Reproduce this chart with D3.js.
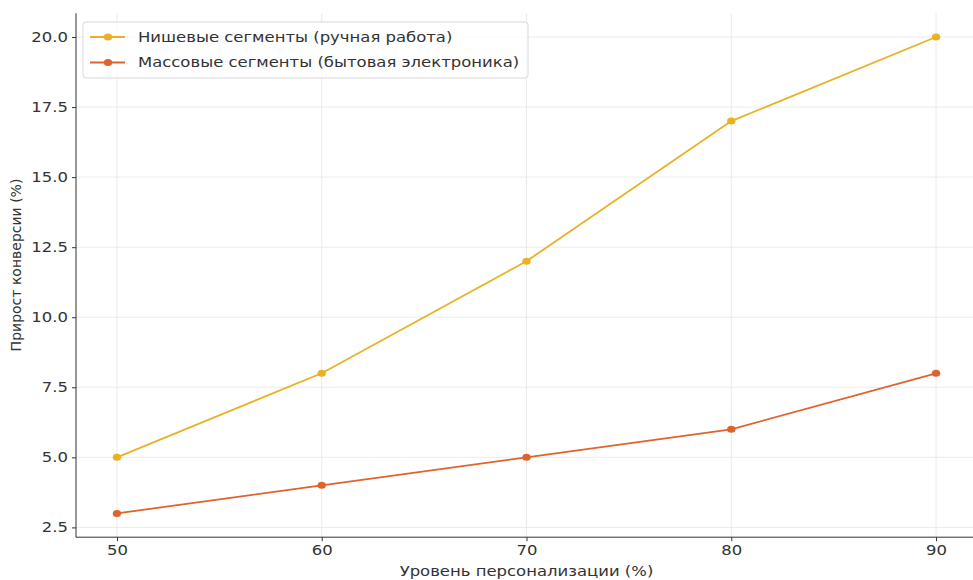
<!DOCTYPE html>
<html><head><meta charset="utf-8">
<script src="https://cdn.jsdelivr.net/npm/d3@7"></script>
<style>body{margin:0;background:#fff}svg{display:block;font-family:"DejaVu Sans",sans-serif}</style>
</head><body><svg id="c" width="973" height="580"></svg>
<script>
const levels = [50, 60, 70, 80, 90];
const nicheValues = [5, 8, 12, 17, 20];
const massValues = [3, 4, 5, 6, 8];
const seriesNames = ["Нишевые сегменты (ручная работа)", "Массовые сегменты (бытовая электроника)"];
const seriesColors = ["#e9b124", "#df632e"];
const xTicks = [50, 60, 70, 80, 90];
const yTicks = [2.5, 5.0, 7.5, 10.0, 12.5, 15.0, 17.5, 20.0];
const xLabel = "Уровень персонализации (%)";
const yLabel = "Прирост конверсии (%)";

const SX = 1.22, FS = "13.5px";
function stretch(sel) {
  sel.each(function () {
    const t = d3.select(this);
    const x = +(t.attr("x") || 0);
    t.attr("transform", (t.attr("transform") || "") + ` translate(${x},0) scale(${SX},1) translate(${-x},0)`);
  });
}

const svg = d3.select("#c");
const L = 76, R = 977, T = 13.2, B = 537.2;
const x = d3.scaleLinear().domain([48, 92]).range([L, R]);
const y = d3.scaleLinear().domain([2.15, 20.85]).range([B, T]);

// grid
const g = svg.append("g");
g.selectAll(".gx").data(xTicks).join("line")
  .attr("x1", d => x(d)).attr("x2", d => x(d)).attr("y1", T).attr("y2", B)
  .attr("stroke", "#e6e6e6").attr("stroke-width", 0.8);
g.selectAll(".gy").data(yTicks).join("line")
  .attr("x1", L).attr("x2", R).attr("y1", d => y(d)).attr("y2", d => y(d))
  .attr("stroke", "#e6e6e6").attr("stroke-width", 0.8);

// axes
const xAxis = d3.axisBottom(x).tickValues(xTicks).tickFormat(d3.format("d")).tickSize(4).tickPadding(4);
const yAxis = d3.axisLeft(y).tickValues(yTicks).tickFormat(d3.format(".1f")).tickSize(4).tickPadding(4);
const gx = svg.append("g").attr("transform", `translate(0,${B})`).call(xAxis);
const gy = svg.append("g").attr("transform", `translate(${L},0)`).call(yAxis);
[gx, gy].forEach(a => {
  a.select(".domain").attr("stroke", "#333").attr("stroke-width", 1);
  a.selectAll(".tick line").attr("stroke", "#333");
  a.selectAll(".tick text").attr("fill", "#333").style("font-size", FS).style("font-family", "DejaVu Sans");
  stretch(a.selectAll(".tick text"));
});
gx.select(".domain").attr("d", `M${L},0H${R}`);
gy.select(".domain").attr("d", `M0,${T}V${B}`);

stretch(svg.append("text").attr("x", (L + R) / 2).attr("y", 576).attr("text-anchor", "middle")
  .attr("fill", "#333").style("font-size", FS).text(xLabel));
svg.append("text").attr("transform", `translate(21,265) rotate(-90)`).attr("text-anchor", "middle")
  .attr("fill", "#333").style("font-size", "14px").text(yLabel);

// lines
const data = [nicheValues, massValues];
const line = d3.line().x((d, i) => x(levels[i])).y(d => y(d));
data.forEach((vals, k) => {
  svg.append("path").datum(vals).attr("d", line).attr("fill", "none")
    .attr("stroke", seriesColors[k]).attr("stroke-width", 1.8);
  svg.selectAll(null).data(vals).join("ellipse")
    .attr("cx", (d, i) => x(levels[i])).attr("cy", d => y(d)).attr("rx", 4.2).attr("ry", 3.5)
    .attr("fill", seriesColors[k]);
});

// legend
const lg = svg.append("g");
lg.append("rect").attr("x", 83).attr("y", 22).attr("width", 445).attr("height", 56).attr("rx", 3)
  .attr("fill", "#fff").attr("fill-opacity", 0.8).attr("stroke", "#d9d9d9");
seriesNames.forEach((n, k) => {
  const yy = 37 + k * 25.5;
  lg.append("line").attr("x1", 90).attr("x2", 125).attr("y1", yy).attr("y2", yy)
    .attr("stroke", seriesColors[k]).attr("stroke-width", 1.8);
  lg.append("ellipse").attr("cx", 108).attr("cy", yy).attr("rx", 4.2).attr("ry", 3.5).attr("fill", seriesColors[k]);
  stretch(lg.append("text").attr("x", 138).attr("y", yy + 5).attr("fill", "#333").style("font-size", FS).text(n));
});
</script></body></html>
